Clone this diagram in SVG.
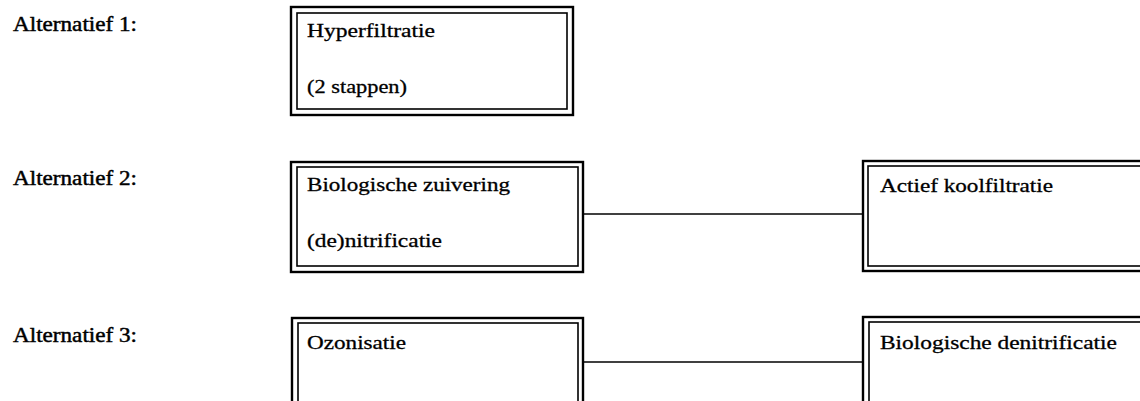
<svg xmlns="http://www.w3.org/2000/svg" width="1140" height="401" viewBox="0 0 1140 401">
<style>
.o{fill:none;stroke:#000;stroke-width:2.4}
.i{fill:none;stroke:#000;stroke-width:1.6}
.c{stroke:#000;stroke-width:1.6;fill:none}
text{font-family:"Liberation Serif","Times New Roman",serif;fill:#000;stroke:#000;stroke-width:0.3}
.t{font-size:19px}
.l{font-size:20px;stroke-width:0.45}
</style>
<rect width="1140" height="401" fill="#fff"/>
<g id="labels">
<text class="l" x="13" y="31" textLength="124" lengthAdjust="spacingAndGlyphs">Alternatief 1:</text>
<text class="l" x="13" y="185" textLength="124" lengthAdjust="spacingAndGlyphs">Alternatief 2:</text>
<text class="l" x="13" y="342" textLength="124" lengthAdjust="spacingAndGlyphs">Alternatief 3:</text>
</g>
<g id="hyperfiltratie">
<rect class="o" x="291" y="7" width="282" height="108"/>
<rect class="i" x="297" y="13" width="270" height="96"/>
<text class="t" x="307" y="37" textLength="128" lengthAdjust="spacingAndGlyphs">Hyperfiltratie</text>
<text class="t" x="307" y="93" textLength="100" lengthAdjust="spacingAndGlyphs">(2 stappen)</text>
</g>
<g id="bio-zuivering">
<rect class="o" x="291" y="162" width="292" height="110"/>
<rect class="i" x="297" y="167" width="281" height="99"/>
<text class="t" x="307" y="191" textLength="203" lengthAdjust="spacingAndGlyphs">Biologische zuivering</text>
<text class="t" x="307" y="247" textLength="135" lengthAdjust="spacingAndGlyphs">(de)nitrificatie</text>
</g>
<g id="actief-kool">
<rect class="o" x="863" y="161" width="290" height="110"/>
<rect class="i" x="868" y="166" width="280" height="100"/>
<text class="t" x="880" y="192" textLength="173" lengthAdjust="spacingAndGlyphs">Actief koolfiltratie</text>
</g>
<g id="ozonisatie">
<rect class="o" x="292" y="318" width="291" height="100"/>
<rect class="i" x="298" y="323" width="280" height="90"/>
<text class="t" x="307" y="349" textLength="99" lengthAdjust="spacingAndGlyphs">Ozonisatie</text>
</g>
<g id="bio-denitrificatie">
<rect class="o" x="863" y="317" width="290" height="100"/>
<rect class="i" x="869" y="322" width="280" height="90"/>
<text class="t" x="880" y="349" textLength="237" lengthAdjust="spacingAndGlyphs">Biologische denitrificatie</text>
</g>
<g id="connectors">
<line class="c" x1="583" y1="214" x2="863" y2="214"/>
<line class="c" x1="583" y1="362" x2="863" y2="362"/>
</g>
</svg>
